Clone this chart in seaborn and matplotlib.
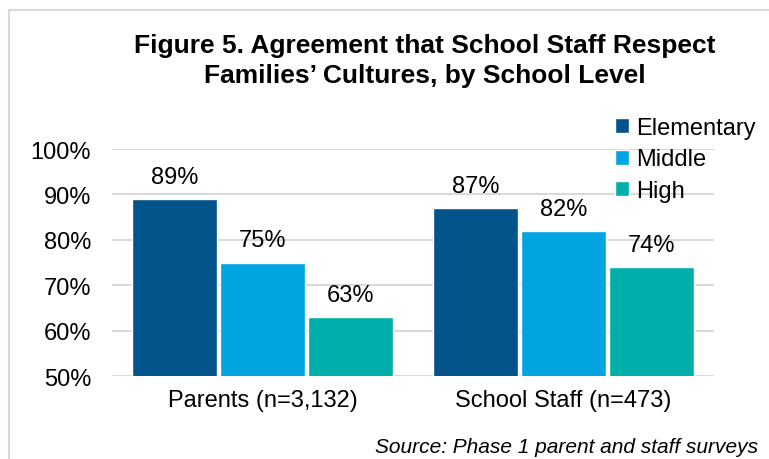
import matplotlib
matplotlib.use("Agg")
import matplotlib.pyplot as plt
import seaborn as sns
import pandas as pd
from matplotlib.patches import Rectangle
from matplotlib.ticker import FuncFormatter

groups = ["Parents (n=3,132)", "School Staff (n=473)"]
levels = ["Elementary", "Middle", "High"]
elementary = [89, 87]
middle = [75, 82]
high = [63, 74]
colors = ["#02548B", "#00A4E0", "#00AFA9"]

rows = []
for i, g in enumerate(groups):
    for lvl, vals in zip(levels, [elementary, middle, high]):
        rows.append({"group": g, "level": lvl, "value": vals[i]})
df = pd.DataFrame(rows)

sns.set_theme(style="white")
plt.rcParams["font.family"] = ["Liberation Sans", "DejaVu Sans"]
plt.rcParams["text.color"] = "#000000"

FS = 17

fig = plt.figure(figsize=(7.69, 4.60), dpi=100)
ax = fig.add_axes([112/769, 1-377/460, (714-112)/769, (377-150)/460])

sns.barplot(data=df, x="group", y="value", hue="level", order=groups,
            hue_order=levels, palette=colors, width=0.877, gap=0.045,
            saturation=1, ax=ax, legend=True)

ax.set_ylim(50, 100)
ax.set_xlim(-0.5, 1.5)
ax.set_yticks(range(50, 101, 10))
ax.yaxis.set_major_formatter(FuncFormatter(lambda v, p: f"{int(v)}%"))
ax.grid(axis="y", color="#D9D9D9", linewidth=1.5)
ax.set_axisbelow(True)
for s in ax.spines.values():
    s.set_visible(False)
ax.set_xlabel("")
ax.set_ylabel("")
ax.tick_params(axis="both", length=0, labelsize=FS, colors="#000000")
ax.tick_params(axis="y", pad=15)
ax.tick_params(axis="x", pad=9)

for cont in ax.containers:
    ax.bar_label(cont, labels=[f"{int(v)}%" for v in cont.datavalues],
                 padding=8, fontsize=FS, color="#000000")

handles, labels = ax.get_legend_handles_labels()
ax.legend(handles, labels, loc="upper left", bbox_to_anchor=(615/769, 1-118/460),
          bbox_transform=fig.transFigure, frameon=False, fontsize=FS,
          handlelength=0.6, handleheight=0.6, handletextpad=0.3,
          labelspacing=0.4, borderaxespad=0, borderpad=0)

fig.text(425/769, 1-61/460, "Figure 5. Agreement that School Staff Respect\nFamilies\u2019 Cultures, by School Level",
         ha="center", va="center", fontsize=19, fontweight="bold", linespacing=1.32,
         color="#000000")
fig.text(758/769, 1-448/460, "Source: Phase 1 parent and staff surveys",
         ha="right", va="center", fontsize=15, style="italic", color="#000000")

fig.patches.append(Rectangle((8.5/769, -0.1), 1.2, 1 - 10.5/460 + 0.1,
                             transform=fig.transFigure, fill=False,
                             edgecolor="#D9D9D9", linewidth=1.5))

fig.savefig("out.png", dpi=100)
